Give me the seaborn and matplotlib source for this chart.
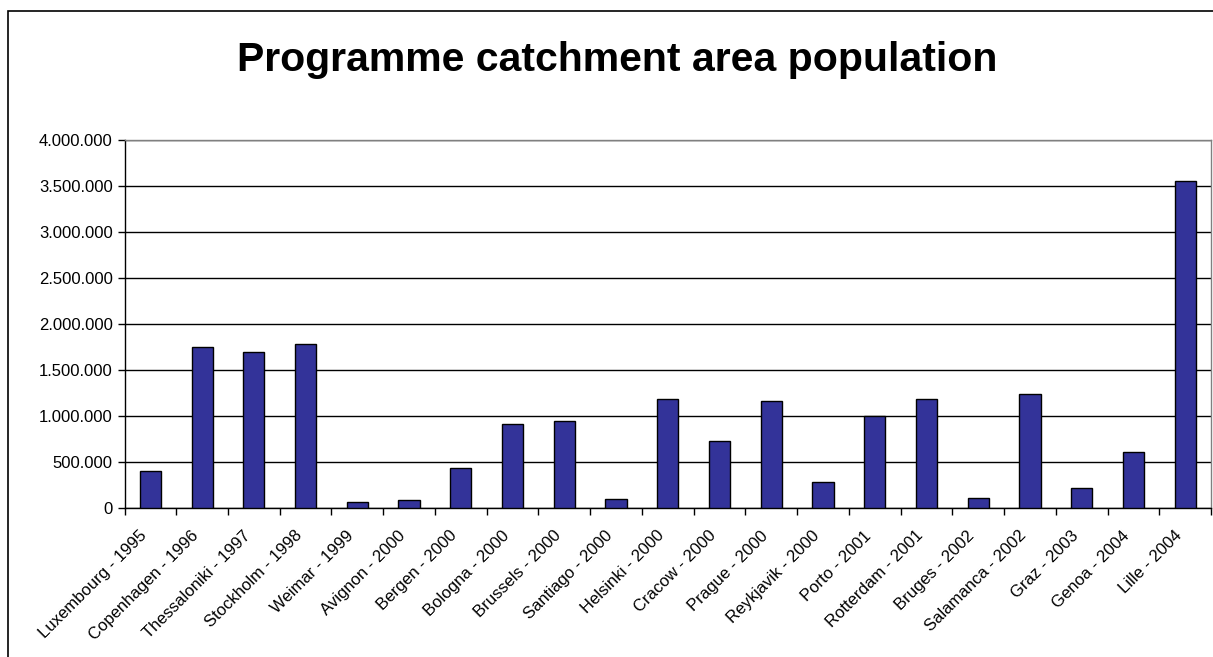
import matplotlib
matplotlib.use("Agg")
import matplotlib.pyplot as plt
import matplotlib.ticker as mticker
import matplotlib.transforms as mtransforms
from matplotlib.patches import Rectangle
import numpy as np
import pandas as pd
import seaborn as sns

# Capitals of culture and their programme catchment populations
cities = ["Luxembourg - 1995", "Copenhagen - 1996", "Thessaloniki - 1997",
          "Stockholm - 1998", "Weimar - 1999", "Avignon - 2000", "Bergen - 2000",
          "Bologna - 2000", "Brussels - 2000", "Santiago - 2000", "Helsinki - 2000",
          "Cracow - 2000", "Prague - 2000", "Reykjavik - 2000", "Porto - 2001",
          "Rotterdam - 2001", "Bruges - 2002", "Salamanca - 2002", "Graz - 2003",
          "Genoa - 2004", "Lille - 2004"]
population = [405000, 1750000, 1700000, 1785000, 65000, 85000, 440000,
              915000, 950000, 98000, 1190000, 728000, 1170000, 286000,
              1000000, 1190000, 115000, 1238000, 218000, 608000, 3555000]
y_ticks = [0, 500000, 1000000, 1500000, 2000000, 2500000, 3000000, 3500000, 4000000]
title = "Programme catchment area population"

df = pd.DataFrame({"city": cities, "population": population})

sns.set_theme(style="white")
plt.rcParams["font.family"] = ["Liberation Sans", "DejaVu Sans"]

W, H = 1213, 657
fig = plt.figure(figsize=(W / 100, H / 100), dpi=100)
ax = fig.add_axes([124.5 / W, 1 - 508.3 / H, (1211 - 124.5) / W, (508.3 - 140) / H])

sns.barplot(data=df, x="city", y="population", color="#333399", saturation=1,
            width=0.41, edgecolor="black", linewidth=1.0, ax=ax, zorder=3)

n = len(cities)
ax.set_xlim(-0.5, n - 0.5)
ax.set_ylim(0, 4000000)
ax.set_yticks(y_ticks)
ax.yaxis.set_major_formatter(mticker.FuncFormatter(lambda v, p: f"{int(v):,}".replace(",", ".")))
ax.yaxis.grid(True, color="black", linewidth=1.0, zorder=0)
ax.set_axisbelow(True)

# Tick marks sit between categories; labels sit under bars
ax.set_xticks(np.arange(n))
ax.set_xticklabels(cities, rotation=45, ha="right", va="center", rotation_mode="anchor")
ax.set_xticks(np.arange(-0.5, n, 1.0), minor=True)
ax.tick_params(axis="x", which="major", length=0, pad=18, labelsize=12, colors="black")
ax.tick_params(axis="x", which="minor", length=5, width=1, color="black", direction="out", bottom=True)
ax.tick_params(axis="y", which="major", length=5, width=1, color="black", direction="out",
               left=True, labelsize=12, labelcolor="black")
ax.set_xlabel("")
ax.set_ylabel("")

shift = mtransforms.ScaledTranslation(-6 / 100, 0, fig.dpi_scale_trans)
for lbl in ax.get_xticklabels():
    lbl.set_transform(lbl.get_transform() + shift)

for side in ("left", "bottom"):
    ax.spines[side].set_color("black")
    ax.spines[side].set_linewidth(1.0)
for side in ("top", "right"):
    ax.spines[side].set_color("#808080")
    ax.spines[side].set_linewidth(1.0)
    ax.spines[side].set_visible(True)

fig.text(617 / W, 1 - 60 / H, title, ha="center", va="center",
         fontsize=29.5, fontweight="bold", color="black")

# Outer chart frame
fig.patches.append(Rectangle((8 / W, -0.5), 2.0, 0.5 + (1 - 11 / H),
                             transform=fig.transFigure, fill=False,
                             edgecolor="black", linewidth=1.2, zorder=10))

fig.savefig("out.png", dpi=100, facecolor="white")
